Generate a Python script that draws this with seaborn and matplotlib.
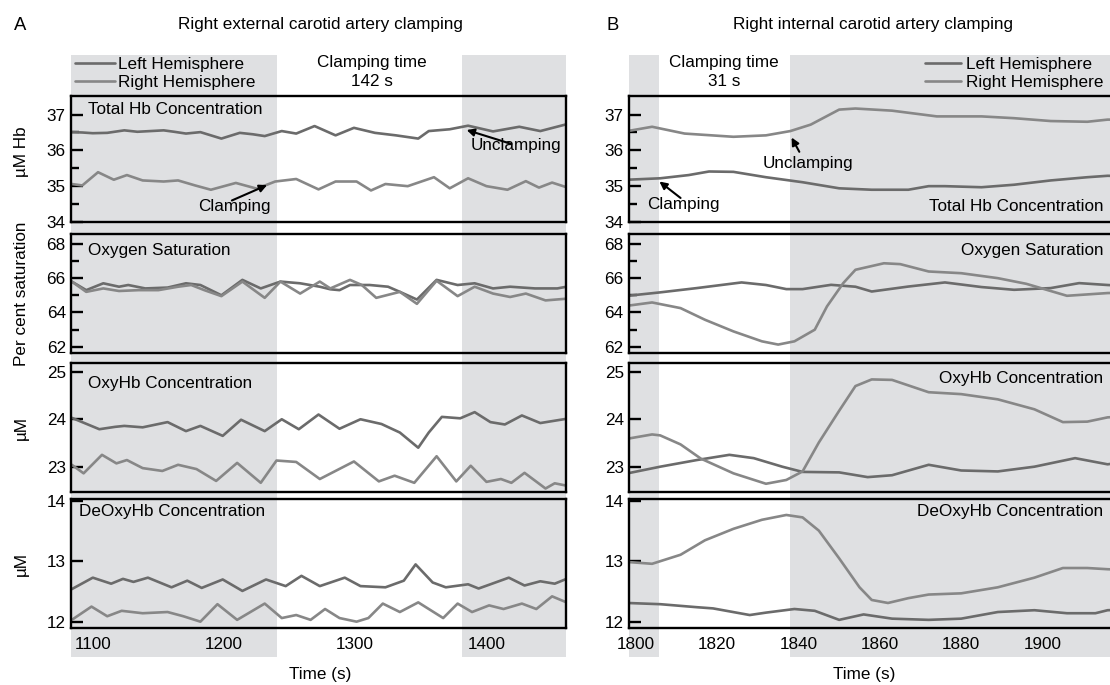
import matplotlib
matplotlib.use("Agg")
import matplotlib.pyplot as plt
import matplotlib.transforms as mtransforms
from matplotlib.patches import Rectangle
import seaborn as sns

####################################################################################
## DATA
####################################################################################
# A - right external carotid artery clamping
ext_thb_lh_t = [1084, 1092, 1100, 1111, 1124, 1134, 1144, 1154, 1162, 1171, 1182, 1190, 1198, 1212, 1222, 1231,
                1244, 1255, 1269, 1285, 1299, 1315, 1331, 1348, 1356, 1372, 1386, 1405, 1425, 1441, 1461]
ext_thb_lh = [36.51, 36.50, 36.48, 36.49, 36.56, 36.52, 36.54, 36.56, 36.52, 36.47, 36.51, 36.42, 36.33, 36.49,
              36.45, 36.40, 36.54, 36.47, 36.68, 36.42, 36.63, 36.49, 36.42, 36.33, 36.54, 36.59, 36.69, 36.53,
              36.66, 36.54, 36.73]
ext_thb_rh_t = [1084, 1092, 1104, 1116, 1126, 1138, 1154, 1165, 1178, 1190, 1209, 1225, 1239, 1255, 1272, 1285,
                1301, 1312, 1323, 1340, 1360, 1372, 1386, 1400, 1416, 1430, 1440, 1450, 1461]
ext_thb_rh = [35.06, 35.02, 35.39, 35.18, 35.31, 35.16, 35.13, 35.16, 35.02, 34.90, 35.09, 34.93, 35.13, 35.20,
              34.91, 35.13, 35.13, 34.88, 35.06, 35.00, 35.25, 34.94, 35.22, 35.00, 34.90, 35.14, 34.96, 35.10, 34.97]

ext_sat_lh_t = [1084, 1095, 1108, 1120, 1127, 1140, 1157, 1171, 1182, 1198, 1214, 1228, 1243, 1258, 1273, 1281,
                1288, 1296, 1311, 1325, 1334, 1347, 1362, 1378, 1391, 1405, 1418, 1437, 1454, 1461]
ext_sat_lh = [65.8, 65.3, 65.7, 65.5, 65.6, 65.4, 65.45, 65.7, 65.6, 65.0, 65.9, 65.4, 65.8, 65.7, 65.5, 65.35,
              65.3, 65.6, 65.6, 65.5, 65.2, 64.75, 65.9, 65.6, 65.7, 65.4, 65.5, 65.4, 65.4, 65.5]
ext_sat_rh_t = [1084, 1095, 1108, 1120, 1135, 1150, 1165, 1175, 1185, 1198, 1214, 1231, 1243, 1258, 1273, 1281,
                1296, 1305, 1316, 1334, 1347, 1362, 1378, 1391, 1405, 1418, 1430, 1445, 1461]
ext_sat_rh = [65.8, 65.2, 65.4, 65.25, 65.3, 65.3, 65.5, 65.6, 65.3, 64.95, 65.8, 64.85, 65.8, 65.1, 65.8, 65.4,
              65.9, 65.6, 64.85, 65.2, 64.5, 65.85, 64.95, 65.5, 65.1, 64.9, 65.1, 64.7, 64.8]

ext_oxy_lh_t = [1084, 1105, 1117, 1124, 1138, 1157, 1171, 1182, 1199, 1213, 1231, 1244, 1257, 1272, 1288, 1304,
                1320, 1334, 1348, 1356, 1366, 1380, 1391, 1403, 1414, 1427, 1441, 1461]
ext_oxy_lh = [24.03, 23.79, 23.84, 23.86, 23.83, 23.94, 23.75, 23.86, 23.65, 23.99, 23.75, 24.00, 23.79, 24.10,
              23.80, 24.00, 23.90, 23.72, 23.40, 23.72, 24.05, 24.02, 24.15, 23.94, 23.89, 24.08, 23.92, 24.01]
ext_oxy_rh_t = [1084, 1093, 1107, 1118, 1126, 1138, 1153, 1165, 1179, 1194, 1210, 1228, 1240, 1255, 1273, 1299,
                1318, 1330, 1345, 1362, 1377, 1388, 1400, 1411, 1419, 1429, 1445, 1452, 1461]
ext_oxy_rh = [23.04, 22.86, 23.25, 23.07, 23.14, 22.97, 22.91, 23.04, 22.95, 22.70, 23.08, 22.66, 23.13, 23.10,
              22.74, 23.11, 22.69, 22.81, 22.66, 23.22, 22.69, 23.02, 22.68, 22.74, 22.66, 22.87, 22.54, 22.65, 22.60]

ext_deoxy_lh_t = [1084, 1100, 1114, 1123, 1131, 1142, 1160, 1172, 1183, 1199, 1214, 1232, 1247, 1259, 1273, 1292,
                  1304, 1323, 1337, 1346, 1359, 1369, 1386, 1394, 1403, 1417, 1429, 1441, 1452, 1461]
ext_deoxy_lh = [12.54, 12.73, 12.63, 12.71, 12.66, 12.73, 12.57, 12.68, 12.56, 12.70, 12.51, 12.70, 12.59, 12.76,
                12.59, 12.73, 12.59, 12.57, 12.68, 12.95, 12.65, 12.57, 12.62, 12.55, 12.62, 12.73, 12.60, 12.67,
                12.63, 12.71]
ext_deoxy_rh_t = [1084, 1099, 1111, 1122, 1138, 1157, 1169, 1182, 1195, 1210, 1231, 1244, 1255, 1266, 1277, 1288,
                  1301, 1310, 1321, 1334, 1348, 1367, 1378, 1389, 1402, 1413, 1427, 1438, 1450, 1461]
ext_deoxy_rh = [12.03, 12.25, 12.09, 12.18, 12.14, 12.16, 12.09, 12.00, 12.29, 12.03, 12.30, 12.06, 12.11, 12.03,
                12.21, 12.06, 12.00, 12.06, 12.30, 12.16, 12.32, 12.06, 12.30, 12.16, 12.27, 12.21, 12.30, 12.21,
                12.42, 12.32]

# B - right internal carotid artery clamping
int_thb_lh_t = [1798, 1806, 1813, 1818, 1824, 1832, 1841, 1850, 1858, 1867, 1872, 1876, 1885, 1893, 1902, 1911,
                1916, 1920]
int_thb_lh = [35.18, 35.22, 35.31, 35.41, 35.40, 35.25, 35.11, 34.94, 34.90, 34.90, 35.00, 35.00, 34.97, 35.04,
              35.16, 35.25, 35.29, 35.28]
int_thb_rh_t = [1798, 1804, 1812, 1824, 1832, 1838, 1843, 1850, 1854, 1863, 1874, 1885, 1893, 1902, 1911, 1916,
                1920]
int_thb_rh = [36.54, 36.66, 36.47, 36.38, 36.42, 36.54, 36.72, 37.14, 37.17, 37.11, 36.95, 36.95, 36.90, 36.82,
              36.80, 36.86, 36.86]

int_sat_lh_t = [1798, 1806, 1815, 1826, 1832, 1837, 1841, 1848, 1854, 1858, 1867, 1876, 1885, 1893, 1902, 1909,
                1916, 1920]
int_sat_lh = [64.97, 65.17, 65.42, 65.75, 65.60, 65.36, 65.36, 65.61, 65.50, 65.22, 65.51, 65.75, 65.48, 65.32,
              65.42, 65.71, 65.60, 65.55]
int_sat_rh_t = [1798, 1804, 1811, 1817, 1824, 1831, 1835, 1839, 1844, 1847, 1851, 1854, 1861, 1865, 1872, 1880,
                1889, 1896, 1901, 1906, 1916, 1920]
int_sat_rh = [64.39, 64.58, 64.25, 63.57, 62.89, 62.31, 62.12, 62.31, 62.99, 64.35, 65.71, 66.49, 66.87, 66.82,
              66.39, 66.29, 66.00, 65.67, 65.32, 64.97, 65.13, 65.15]

int_oxy_lh_t = [1798, 1806, 1815, 1823, 1829, 1836, 1841, 1850, 1857, 1863, 1872, 1880, 1889, 1898, 1908, 1916,
                1920]
int_oxy_lh = [22.86, 23.00, 23.14, 23.25, 23.18, 23.00, 22.89, 22.88, 22.78, 22.82, 23.04, 22.92, 22.90, 23.00,
              23.18, 23.05, 23.10]
int_oxy_rh_t = [1798, 1804, 1806, 1811, 1816, 1824, 1832, 1837, 1841, 1845, 1850, 1854, 1858, 1863, 1872, 1880,
                1889, 1898, 1905, 1911, 1916, 1920]
int_oxy_rh = [23.59, 23.68, 23.66, 23.47, 23.17, 22.86, 22.64, 22.72, 22.90, 23.51, 24.18, 24.70, 24.84, 24.83,
              24.57, 24.53, 24.42, 24.21, 23.94, 23.95, 24.04, 24.06]

int_deoxy_lh_t = [1798, 1806, 1815, 1819, 1828, 1832, 1839, 1844, 1850, 1856, 1863, 1872, 1880, 1889, 1898, 1906,
                  1913, 1916, 1920]
int_deoxy_lh = [12.31, 12.29, 12.24, 12.22, 12.11, 12.15, 12.21, 12.18, 12.03, 12.12, 12.05, 12.03, 12.05, 12.16,
                12.19, 12.14, 12.14, 12.19, 12.20]
int_deoxy_rh_t = [1798, 1804, 1811, 1817, 1824, 1831, 1837, 1841, 1845, 1850, 1855, 1858, 1862, 1867, 1872, 1880,
                  1889, 1898, 1905, 1911, 1916, 1920]
int_deoxy_rh = [12.99, 12.96, 13.11, 13.35, 13.54, 13.69, 13.77, 13.73, 13.51, 13.05, 12.57, 12.36, 12.31, 12.39,
                12.45, 12.47, 12.57, 12.73, 12.89, 12.89, 12.87, 12.86]

panel_names = ["Total Hb Concentration", "Oxygen Saturation", "OxyHb Concentration", "DeOxyHb Concentration"]
row_ylabels = ["\u00b5M Hb", "Per cent saturation", "\u00b5M", "\u00b5M"]
row_ylims = [(33.99, 37.52), (61.61, 68.58), (22.46, 25.18), (11.89, 14.03)]
row_major = [[34, 35, 36, 37], [62, 64, 66, 68], [23, 24, 25], [12, 13, 14]]
row_minor = [[34.5, 35.5, 36.5], [63, 65, 67], [], []]

ext_xlim = (1083.7, 1460.6)
int_xlim = (1798.4, 1920.0)
ext_xticks = [1100, 1200, 1300, 1400]
int_xticks = [1800, 1820, 1840, 1860, 1880, 1900]
ext_clamp = (1240.2, 1381.7)   # 142 s
int_clamp = (1805.6, 1837.8)   # 31 s

####################################################################################
## STYLE
####################################################################################
sns.set_theme(style="white")
plt.rcParams['font.family'] = ['Liberation Sans', 'DejaVu Sans']
plt.rcParams['text.color'] = 'black'
plt.rcParams['axes.labelcolor'] = 'black'
FS = 12.3
LH_COL = "#6b6b6b"
RH_COL = "#878787"
SHADE = "#dfe0e2"

W, H = 1110, 685
fig = plt.figure(figsize=(11.1, 6.85), dpi=100)


def fx(px):
    return px / W


def fy(py):
    return 1 - py / H


rows = [(96, 222.3), (234, 353.3), (363.3, 492.3), (499.3, 628.3)]
cols = [(71.4, 566.0), (629.3, 1123.9)]

ext_series = [(ext_thb_lh_t, ext_thb_lh, ext_thb_rh_t, ext_thb_rh),
              (ext_sat_lh_t, ext_sat_lh, ext_sat_rh_t, ext_sat_rh),
              (ext_oxy_lh_t, ext_oxy_lh, ext_oxy_rh_t, ext_oxy_rh),
              (ext_deoxy_lh_t, ext_deoxy_lh, ext_deoxy_rh_t, ext_deoxy_rh)]
int_series = [(int_thb_lh_t, int_thb_lh, int_thb_rh_t, int_thb_rh),
              (int_sat_lh_t, int_sat_lh, int_sat_rh_t, int_sat_rh),
              (int_oxy_lh_t, int_oxy_lh, int_oxy_rh_t, int_oxy_rh),
              (int_deoxy_lh_t, int_deoxy_lh, int_deoxy_rh_t, int_deoxy_rh)]

axes = [[None] * 4, [None] * 4]
for c, (series, xlim, xticks) in enumerate([(ext_series, ext_xlim, ext_xticks),
                                            (int_series, int_xlim, int_xticks)]):
    x0, x1 = cols[c]
    for r in range(4):
        y0, y1 = rows[r]
        ax = fig.add_axes([fx(x0), fy(y1), (x1 - x0) / W, (y1 - y0) / H])
        ax.set_facecolor("none")
        lh_t, lh_v, rh_t, rh_v = series[r]
        sns.lineplot(x=lh_t, y=lh_v, ax=ax, color=LH_COL, lw=1.9, label="Left Hemisphere", legend=False)
        sns.lineplot(x=rh_t, y=rh_v, ax=ax, color=RH_COL, lw=1.9, label="Right Hemisphere", legend=False)
        for ln in ax.lines:
            ln.set_solid_capstyle("round")
            ln.set_solid_joinstyle("round")
        ax.set_xlim(xlim)
        ax.set_ylim(row_ylims[r])
        ax.set_yticks(row_major[r])
        ax.set_yticks(row_minor[r], minor=True)
        ax.set_xticks(xticks)
        ax.tick_params(which="both", direction="in", width=1.7, colors="black", labelsize=FS,
                       left=True, right=False, top=False)
        ax.tick_params(which="major", length=8.6, pad=4)
        ax.tick_params(which="minor", length=5.5)
        ax.tick_params(axis="x", pad=6)
        if r < 3:
            ax.tick_params(axis="x", bottom=False, labelbottom=False)
        for sp in ax.spines.values():
            sp.set_visible(True)
            sp.set_color("black")
            sp.set_linewidth(1.7)
        ax.set_xlabel("")
        ax.set_ylabel("")
        ax.grid(False)
        axes[c][r] = ax

# shading of the unclamped periods (spans the whole column, outside the axes too)
for c, (xlim, clamp) in enumerate([(ext_xlim, ext_clamp), (int_xlim, int_clamp)]):
    trans = mtransforms.blended_transform_factory(axes[c][3].transData, fig.transFigure)
    for a, b in [(xlim[0], clamp[0]), (clamp[1], xlim[1])]:
        fig.add_artist(Rectangle((a, fy(656.7)), b - a, fy(55) - fy(656.7), transform=trans,
                                 facecolor=SHADE, edgecolor="none", zorder=-5))

# panel names
ext_name_pos = [(0.033, 0.895), (0.033, 0.86), (0.033, 0.845), (0.016, 0.904)]
int_name_pos = [(0.959, 0.124), (0.959, 0.86), (0.959, 0.884), (0.959, 0.904)]
for r in range(4):
    axes[0][r].text(*ext_name_pos[r], panel_names[r], transform=axes[0][r].transAxes,
                    ha="left", va="center", fontsize=FS)
    axes[1][r].text(*int_name_pos[r], panel_names[r], transform=axes[1][r].transAxes,
                    ha="right", va="center", fontsize=FS)

# y labels (left column only)
ylabel_y = [0.559, 0.5, 0.5, 0.5]
for r in range(4):
    axes[0][r].set_ylabel(row_ylabels[r], fontsize=FS, va="center")
    axes[0][r].yaxis.set_label_coords(-0.101, ylabel_y[r])

# x labels
for c, lx in enumerate([0.502, 0.475]):
    axes[c][3].set_xlabel("Time (s)", fontsize=FS, va="center")
    axes[c][3].xaxis.set_label_coords(lx, -0.362)

# legends
for c, (lx, hl, tp) in enumerate([(75, 2.36, 0.15), (925, 2.1, 0.3)]):
    handles = axes[c][0].lines[:2]
    fig.legend(handles, [h.get_label() for h in handles], loc="upper left",
               bbox_to_anchor=(fx(lx), fy(56.5)), frameon=False, fontsize=FS,
               handlelength=hl, handletextpad=tp, labelspacing=0.18, borderpad=0,
               borderaxespad=0)

# titles and clamping-time labels
fig.text(fx(20.5), fy(25), "A", fontsize=FS + 1, ha="center", va="center")
fig.text(fx(320), fy(25), "Right external carotid artery clamping", fontsize=FS, ha="center", va="center")
fig.text(fx(613), fy(25), "B", fontsize=FS + 1, ha="center", va="center")
fig.text(fx(872.6), fy(25), "Right internal carotid artery clamping", fontsize=FS, ha="center", va="center")
fig.text(fx(371.5), fy(62.5), "Clamping time", fontsize=FS, ha="center", va="center")
fig.text(fx(371.5), fy(81.7), "142 s", fontsize=FS, ha="center", va="center")
fig.text(fx(724), fy(62.5), "Clamping time", fontsize=FS, ha="center", va="center")
fig.text(fx(724), fy(81.7), "31 s", fontsize=FS, ha="center", va="center")

# annotations
arrow = dict(arrowstyle="-|>", color="black", lw=1.5, mutation_scale=11, shrinkA=0, shrinkB=0)
a = axes[0][0]
a.text(1208, 34.44, "Clamping", fontsize=FS, ha="center", va="center")
a.annotate("", xy=(1232.8, 35.03), xytext=(1206, 34.6), arrowprops=arrow)
a.text(1422.4, 36.13, "Unclamping", fontsize=FS, ha="center", va="center")
a.annotate("", xy=(1384.9, 36.57), xytext=(1419, 36.18), arrowprops=arrow)
b = axes[1][0]
b.text(1811.8, 34.49, "Clamping", fontsize=FS, ha="center", va="center")
b.annotate("", xy=(1805.8, 35.13), xytext=(1811, 34.67), arrowprops=arrow)
b.text(1842.2, 35.63, "Unclamping", fontsize=FS, ha="center", va="center")
b.annotate("", xy=(1838.3, 36.36), xytext=(1840.2, 35.96), arrowprops=arrow)

fig.savefig("out.png", dpi=100)
